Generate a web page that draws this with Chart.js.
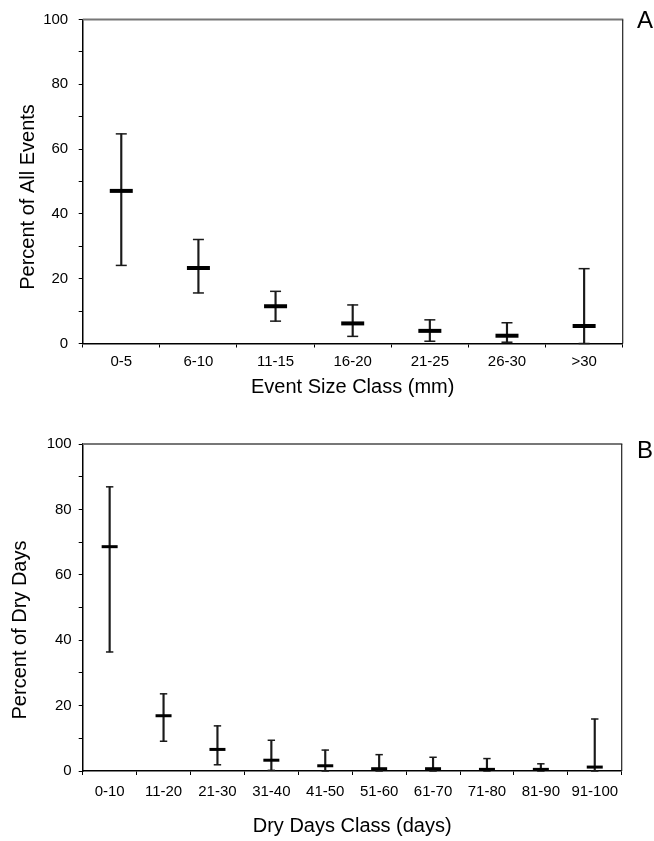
<!DOCTYPE html>
<html><head><meta charset="utf-8">
<script src="https://cdn.jsdelivr.net/npm/chart.js@4.4.1/dist/chart.umd.min.js"></script>
<style>html,body{margin:0;padding:0;background:#fff;}canvas{display:block;}</style>
</head><body>
<canvas id="a" width="654" height="400"></canvas>
<canvas id="b" width="654" height="441"></canvas>
<script>
// Panel A: event size classes
const catsA = ['0-5', '6-10', '11-15', '16-20', '21-25', '26-30', '>30'];
const meanA = [47.1, 23.3, 11.5, 6.2, 3.9, 2.4, 5.4];
const lowA  = [24.1, 15.6, 6.9, 2.2, 0.7, 0.4, 0];
const highA = [64.7, 32.1, 16.1, 11.9, 7.3, 6.4, 23.1];

// Panel B: dry days classes
const catsB = ['0-10', '11-20', '21-30', '31-40', '41-50', '51-60', '61-70', '71-80', '81-90', '91-100'];
const meanB = [68.6, 16.9, 6.6, 3.3, 1.6, 0.7, 0.7, 0.5, 0.5, 1.2];
const lowB  = [36.4, 9.1, 1.9, 0.2, 0, 0, 0, 0, 0, 0];
const highB = [86.9, 23.6, 13.8, 9.4, 6.4, 5.0, 4.2, 3.8, 2.2, 15.9];

const yTickValues = [0, 20, 40, 60, 80, 100];

const FONT = "'Liberation Sans', Arial, sans-serif";

const decor = {
  id: 'panelDecor',
  afterDraw(chart, args, o) {
    const ctx = chart.ctx, ca = chart.chartArea;
    ctx.save();
    ctx.strokeStyle = '#777'; ctx.lineWidth = 2;
    ctx.beginPath(); ctx.moveTo(ca.left, ca.top); ctx.lineTo(ca.right + 0.6, ca.top); ctx.stroke();
    ctx.strokeStyle = '#222'; ctx.lineWidth = 1.2;
    ctx.beginPath(); ctx.moveTo(ca.right, ca.top); ctx.lineTo(ca.right, ca.bottom); ctx.stroke();
    ctx.restore();

    ctx.save();
    ctx.fillStyle = '#000';
    ctx.font = '20px ' + FONT;
    ctx.textAlign = 'center'; ctx.textBaseline = 'middle';
    ctx.translate(o.yTitleX, o.yTitleY);
    ctx.rotate(-Math.PI / 2);
    ctx.fillText(o.yTitle, 0, 0);
    ctx.restore();

    ctx.save();
    ctx.fillStyle = '#000';
    ctx.font = '24px ' + FONT;
    ctx.textAlign = 'center'; ctx.textBaseline = 'middle';
    ctx.fillText(o.letter, o.letterX, o.letterY);
    ctx.restore();
  }
};

function makePanel(id, cats, mean, low, high, c) {
  const pointDs = (data, r, w, color) => ({
    type: 'line', data: data, showLine: false,
    pointStyle: 'line', pointRadius: r, pointHoverRadius: r,
    pointBorderWidth: w, pointHoverBorderWidth: w,
    pointBorderColor: color, pointBackgroundColor: color,
    borderColor: color, clip: false
  });
  return new Chart(document.getElementById(id), {
    type: 'bar',
    data: {
      labels: cats,
      datasets: [
        { type: 'bar', data: cats.map((_, i) => [low[i], high[i]]),
          backgroundColor: '#1a1a1a', borderWidth: 0, barThickness: 1.5, order: 4 },
        Object.assign(pointDs(high, c.capR, 1.5, '#1a1a1a'), { order: 3 }),
        Object.assign(pointDs(low, c.capR, 1.5, '#1a1a1a'), { order: 2 }),
        Object.assign(pointDs(mean, c.meanR, c.meanW, '#000'), { order: 1 })
      ]
    },
    options: {
      responsive: false,
      animation: false,
      events: [],
      layout: { padding: { top: c.padTop, right: c.padRight, left: 0, bottom: 0 } },
      plugins: {
        legend: { display: false },
        tooltip: { enabled: false },
        panelDecor: { yTitle: c.yTitle, yTitleX: c.yTitleX, yTitleY: c.yTitleY,
                      letter: c.letter, letterX: 645, letterY: c.letterY }
      },
      scales: {
        x: {
          type: 'category', offset: true,
          grid: { offset: true, drawOnChartArea: false, drawTicks: true, tickLength: 4, color: '#000', lineWidth: 1 },
          border: { display: true, color: '#000', width: 1.5 },
          ticks: { color: '#000', font: { family: FONT, size: 15 }, padding: c.xTickPad, maxRotation: 0, autoSkip: false },
          title: { display: true, text: c.xTitle, color: '#000', font: { family: FONT, size: 20 },
                   padding: { top: 0, bottom: c.xTitlePad } },
          afterFit(s) { s.height = c.xHeight; }
        },
        y: {
          min: 0, max: 100,
          ticks: { stepSize: 10, color: '#000', font: { family: FONT, size: 15 }, padding: c.yTickPad,
                   callback: v => yTickValues.includes(v) ? String(v) : '' },
          grid: { drawOnChartArea: false, tickLength: 4, color: '#000', lineWidth: 1 },
          border: { display: true, color: '#000', width: 1.5 },
          afterFit(s) { s.width = 82.7; }
        }
      }
    },
    plugins: [decor]
  });
}

makePanel('a', catsA, meanA, lowA, highA, {
  padTop: 16, padRight: 31.3, xHeight: 56.5, xTickPad: 5, yTickPad: 10.5, xTitlePad: 1,
  xTitle: 'Event Size Class (mm)', yTitle: 'Percent of All Events', yTitleX: 28, yTitleY: 197,
  letter: 'A', letterY: 21, capR: 5.5, meanR: 11.5, meanW: 4
});
makePanel('b', catsB, meanB, lowB, highB, {
  padTop: 44, padRight: 32.3, xHeight: 70, xTickPad: 8, yTickPad: 7, xTitlePad: 2.3,
  xTitle: 'Dry Days Class (days)', yTitle: 'Percent of Dry Days', yTitleX: 20, yTitleY: 230,
  letter: 'B', letterY: 51, capR: 3.7, meanR: 8, meanW: 3
});
</script>
</body></html>
